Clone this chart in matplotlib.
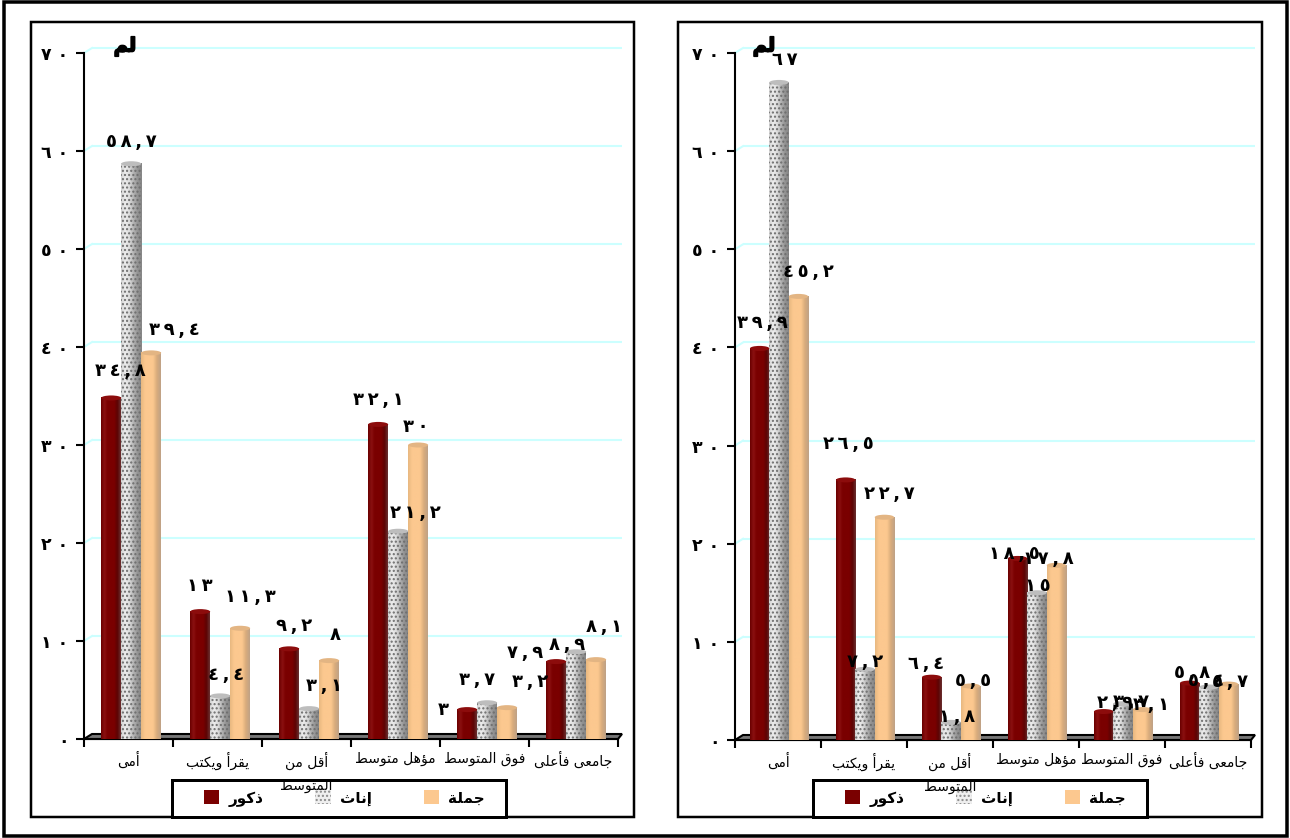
import matplotlib
matplotlib.use("Agg")
import matplotlib.pyplot as plt
import matplotlib.patheffects as pe
import numpy as np
from matplotlib.colors import LinearSegmentedColormap
from matplotlib.patches import Ellipse, Patch, Polygon, Rectangle
from matplotlib.transforms import offset_copy

W, H = 1290, 838
plt.rcParams['font.family'] = ['DejaVu Sans']
plt.rcParams['hatch.linewidth'] = 1.0

# ---------- data ----------
categories = ["أمى", "يقرأ ويكتب", "أقل من\nالمتوسط", "مؤهل متوسط", "فوق المتوسط", "جامعى فأعلى"]
series_names = ["ذكور", "إناث", "جملة"]
y_ticks = [0, 10, 20, 30, 40, 50, 60, 70]
left_male = [34.8, 13, 9.2, 32.1, 3, 7.9]
left_female = [58.7, 4.4, 3.1, 21.2, 3.7, 8.9]
left_total = [39.4, 11.3, 8, 30, 3.2, 8.1]
right_male = [39.9, 26.5, 6.4, 18.5, 2.9, 5.8]
right_female = [67, 7.2, 1.8, 15, 3.7, 5.4]
right_total = [45.2, 22.7, 5.5, 17.8, 3.1, 5.7]
corner_label = "لم"

# ---------- label offsets in pixels (dx, dy) ----------
left_offsets = [
    [(9, 27), (0, 26), (5, 23), (0, 24), (-24, 0), (-31, 9)],
    [(0, 22), (6, 21), (15, 23), (17, 18), (-10, 23), (-9, 7)],
    [(23, 23), (10, 31), (6, 26), (-2, 18), (23, 26), (8, 33)],
]
right_offsets = [
    [(3, 25), (3, 36), (-6, 13), (-3, 4), (11, 9), (2, 10)],
    [(6, 22), (0, 7), (6, 5), (1, 7), (8, 2), (-3, 6)],
    [(10, 24), (5, 23), (3, 5), (-8, 6), (9, 5), (2, 2)],
]

# ---------- Arabic shaping (matplotlib draws glyphs left to right, unshaped) ----------
FORMS = {'ا': (0xFE8D, 2), 'أ': (0xFE83, 2), 'إ': (0xFE87, 2), 'ؤ': (0xFE85, 2), 'ة': (0xFE93, 2),
         'ب': (0xFE8F, 4), 'ت': (0xFE95, 4), 'ث': (0xFE99, 4), 'ج': (0xFE9D, 4), 'ذ': (0xFEAB, 2),
         'ر': (0xFEAD, 2), 'س': (0xFEB1, 4), 'ط': (0xFEC1, 4), 'ع': (0xFEC9, 4), 'ف': (0xFED1, 4),
         'ق': (0xFED5, 4), 'ك': (0xFED9, 4), 'ل': (0xFEDD, 4), 'م': (0xFEE1, 4), 'ن': (0xFEE5, 4),
         'ه': (0xFEE9, 4), 'و': (0xFEED, 2), 'ى': (0xFEEF, 2), 'ي': (0xFEF1, 4)}


def shape_line(s):
    out = []
    for i, c in enumerate(s):
        if c not in FORMS:
            out.append(c)
            continue
        base, n = FORMS[c]
        prev = s[i - 1] if i > 0 else ''
        nxt = s[i + 1] if i + 1 < len(s) else ''
        joins_prev = prev in FORMS and FORMS[prev][1] == 4
        joins_next = nxt in FORMS and n == 4
        if joins_prev and joins_next:
            k = 3
        elif joins_prev:
            k = 1
        elif joins_next:
            k = 2
        else:
            k = 0
        out.append(chr(base + k))
    return ''.join(reversed(out))


def shape(s):
    return '\n'.join(shape_line(p) for p in s.split('\n'))


def arabic_num(v, sep=' '):
    txt = f"{v:g}".replace('.', ',')
    mapped = txt.translate(str.maketrans('0123456789', '٠١٢٣٤٥٦٧٨٩'))
    return sep.join(mapped)


# ---------- styles ----------
RED = '#7a0000'
TAN = '#fcc88f'
GREY = '#c9c9c9'
GRID = '#ccffff'
cmaps = [
    LinearSegmentedColormap.from_list('r', ['#6a0000', '#8a1010', '#7a0000', '#7a0000', '#7a0000', '#5c0404', '#6a3030']),
    LinearSegmentedColormap.from_list('g', ['#d4d4d4', '#ececec', '#dcdcdc', '#b4b4b4', '#949494', '#868686']),
    LinearSegmentedColormap.from_list('t', ['#e8b880', '#fcc88f', '#fcc88f', '#fcc88f', '#d9ac7c', '#bfa286']),
]
caps = ['#8c0c0c', '#bdbdbd', '#e3b583']
faces = [RED, GREY, TAN]
grad = np.linspace(0, 1, 64).reshape(1, -1)

fig = plt.figure(figsize=(W / 100, H / 100), dpi=100, facecolor='white')


def frame(x0, y0, x1, y1, lw=3, fill=False, z=-5):
    fig.add_artist(Rectangle((x0 / W, 1 - y1 / H), (x1 - x0) / W, (y1 - y0) / H, transform=fig.transFigure,
                             fill=fill, fc='white', ec='black', lw=lw * 0.72, zorder=z))


frame(4, 2, 1287, 836, 3.5)
frame(31, 22, 634, 817, 2.5)
frame(678, 22, 1262, 817, 2.5)


def panel(x0, x1, y70, y0, series, offsets, shift, logo_x, legend_box, legend_x):
    ax = fig.add_axes([x0 / W, 1 - y0 / H, (x1 - x0) / W, (y0 - y70) / H], zorder=10)
    ax.patch.set_alpha(0)
    px = (x1 - x0) / 6
    unit = (y0 - y70) / 70
    dx_shift = offset_copy(ax.transData, fig=fig, x=8, y=5, units='dots')
    for v in y_ticks[1:]:
        ax.plot([0, 6 - 4 / px], [v, v], color=GRID, lw=1.5, transform=dx_shift, zorder=1, clip_on=False,
                solid_capstyle='butt')
        ax.plot([0, 8 / px], [v, v + 5 / unit], color=GRID, lw=1.5, zorder=1, clip_on=False)

    # dark floor under the bars
    floor = [(0, 0), (8 / px, 5 / unit), (6 + 4 / px, 5 / unit), (6, 0)]
    ax.add_patch(Polygon(floor, closed=True, fc='#777777', ec='black', lw=1.5, zorder=2, clip_on=False))

    w = 20 / px * (1 if px > 87 else 0.97)
    centers = np.arange(6) + 0.5 + shift
    cap_h = 5 / unit
    for s, vals in enumerate(series):
        xs = centers + (s - 1) * w
        bars = ax.bar(xs, vals, width=w, color=faces[s], lw=0, zorder=3 + s * 0.1)
        for b, x, v in zip(bars, xs, vals):
            ax.imshow(grad, extent=(x - w / 2, x + w / 2, 0, v), aspect='auto', cmap=cmaps[s],
                      zorder=3 + s * 0.1, interpolation='bilinear')
            if s == 1:
                ax.add_patch(Rectangle((x - w / 2, 0), w, v, fc='none', ec='#6e6e6e', hatch='....', lw=0,
                                       zorder=3.15))
            ax.add_patch(Ellipse((x, v), w, cap_h, fc=caps[s], ec='none', zorder=3.5 + s * 0.1, clip_on=False))
        for x, v, off in zip(xs, vals, offsets[s]):
            ax.annotate(arabic_num(v, sep='\u2009'), (x, v), xytext=off, textcoords='offset pixels', ha='center',
                        va='center', fontsize=13, fontweight='bold', color='black', zorder=8,
                        annotation_clip=False)

    ax.set_xlim(0, 6)
    ax.set_ylim(0, 70)
    for sp in ('top', 'right'):
        ax.spines[sp].set_visible(False)
    for sp in ('left', 'bottom'):
        ax.spines[sp].set_linewidth(1.5)
        ax.spines[sp].set_zorder(2.8)

    ax.set_yticks(y_ticks)
    ax.set_yticklabels([arabic_num(v) for v in y_ticks], fontsize=12.5, fontweight='bold')
    ax.tick_params(axis='y', length=6, width=1.5, pad=5)
    ax.set_xticks(np.arange(7))
    ax.set_xticklabels([])
    ax.tick_params(axis='x', which='major', length=6, width=1.5)
    ax.set_xticks(np.arange(6) + 0.5, [shape(c) for c in categories], minor=True)
    ax.tick_params(axis='x', which='minor', length=0, pad=9, labelsize=10)
    for t in ax.get_xticklabels(minor=True):
        t.set_linespacing(1.8)
        t.set_va('top')

    fig.text(logo_x / W, 1 - 46 / H, shape(corner_label), fontsize=14, fontweight='bold', ha='center', va='center',
             zorder=12, path_effects=[pe.withStroke(linewidth=1.2, foreground='black')])

    handles = [Patch(fc=RED, ec='none'),
               Patch(fc='#efefef', ec='#8a8a8a', hatch='....', lw=0),
               Patch(fc=TAN, ec='none')]
    bx0, by0, bx1, by1 = legend_box
    frame(bx0, by0, bx1, by1, lw=3, fill=True, z=4)
    leg = fig.legend(handles, [shape(n) for n in series_names], ncol=3, loc='center left',
                     bbox_to_anchor=(legend_x / W, 1 - (by0 + by1) / 2 / H),
                     borderaxespad=0, borderpad=0, frameon=False, handlelength=1,
                     handleheight=1, handletextpad=0.6, columnspacing=3.4,
                     prop={'size': 11, 'weight': 'bold'})
    leg.set_zorder(5)
    return ax


panel(84, 618, 53, 739, [left_male, left_female, left_total], left_offsets, 0.03, 125, (172, 780, 506, 817), 204)
panel(735, 1251, 53, 740, [right_male, right_female, right_total], right_offsets, 0.012, 764, (813, 780, 1147, 817), 845)

fig.savefig('out.png', dpi=100)
